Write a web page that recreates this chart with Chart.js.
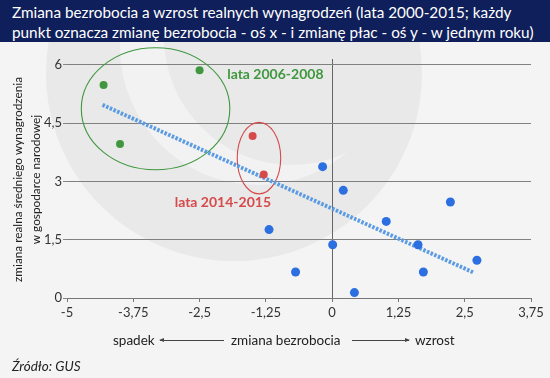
<!DOCTYPE html>
<html>
<head>
<meta charset="utf-8">
<script src="https://cdn.jsdelivr.net/npm/chart.js@4"></script>
<style>
  html, body { margin: 0; padding: 0; }
  body { width: 550px; height: 378px; position: relative; overflow: hidden; background: #f4f4f4; font-family: Lato, "Open Sans", sans-serif; color: #222; }
  #title { position: absolute; left: 0; top: 0; width: 550px; height: 42px; background: #0f1f5b; color: #fff; font-size: 15.3px; line-height: 20px; padding: 2px 0 0 12px; box-sizing: border-box; white-space: nowrap; }
  #wrap { position: absolute; left: 0; top: 42px; width: 550px; height: 336px; }
  .cap { position: absolute; font-size: 13.5px; line-height: 16px; color: #222; white-space: nowrap; }
  .arrow { position: absolute; height: 1px; background: #444; }
  .arrow.l::before, .arrow.r::after { content: ""; position: absolute; top: -2px; border-top: 2.5px solid transparent; border-bottom: 2.5px solid transparent; }
  .arrow.l::before { left: -1px; border-right: 5px solid #444; }
  .arrow.r::after { right: -1px; border-left: 5px solid #444; }
  #src { position: absolute; left: 12px; top: 358px; font-size: 13.5px; font-style: italic; color: #222; }
</style>
</head>
<body>
<div id="title">Zmiana bezrobocia a wzrost realnych wynagrodzeń (lata 2000-2015; każdy<br>punkt oznacza zmianę bezrobocia - oś x - i zmianę płac - oś y - w jednym roku)</div>
<div id="wrap"><canvas id="chart" width="550" height="336"></canvas></div>
<div class="cap" style="left:113px; top:332px;">spadek</div>
<div class="arrow l" style="left:160px; top:340px; width:64px;"></div>
<div class="cap" style="left:231px; top:332px;">zmiana bezrobocia</div>
<div class="arrow r" style="left:352px; top:340px; width:57px;"></div>
<div class="cap" style="left:415px; top:332px;">wzrost</div>
<div id="src">Źródło: GUS</div>
<script>
// zmiana bezrobocia (x) i realnych płac (y), jeden punkt = jeden rok
const otherX = [-0.18, 0.21, -1.19, 0.01, -0.69, 0.42, 1.02, 1.62, 1.72, 2.23, 2.73];
const otherY = [3.38, 2.77, 1.76, 1.37, 0.67, 0.14, 1.97, 1.37, 0.67, 2.47, 0.97];
const y0608X = [-4.31, -2.50, -4.00];
const y0608Y = [5.48, 5.86, 3.96];
const y1415X = [-1.50, -1.29];
const y1415Y = [4.17, 3.18];
const trendX = [-4.33, 2.66];
const trendY = [4.97, 0.66];

const xTicks = [-5, -3.75, -2.5, -1.25, 0, 1.25, 2.5, 3.75];
const yTicks = [0, 1.5, 3, 4.5, 6];

const yTitle = ['zmiana realna średniego wynagrodzenia', 'w gospodarce narodowej'];

const groups = [
  { text: 'lata 2006-2008', color: '#3f973f', ex: -3.33, ey: 4.87, rx: 1.40, ry: 1.57, lx: -1.98, ly: 5.76 },
  { text: 'lata 2014-2015', color: '#d64a4a', ex: -1.38, ey: 3.60, rx: 0.41, ry: 0.92, lx: -2.97, ly: 2.46 }
];

const pts = (xs, ys) => xs.map((x, i) => ({ x: x, y: ys[i] }));
const fmt = v => String(v).replace('.', ',');

// logo w tle
const watermark = {
  id: 'watermark',
  beforeDraw(chart) {
    const c = chart.ctx;
    c.save();
    c.fillStyle = '#f4f4f4';
    c.fillRect(0, 0, chart.width, chart.height);
    c.fillStyle = '#e9e9e9';
    c.beginPath(); c.arc(234, 31, 188, 0, Math.PI * 2); c.fill();
    c.fillStyle = '#f2f2f2';
    c.beginPath(); c.arc(258, 5, 138, 0, Math.PI * 2); c.fill();
    c.fillStyle = '#e9e9e9';
    c.beginPath(); c.arc(292, -5, 128, 0, Math.PI * 2); c.fill();
    c.restore();
  }
};

const extras = {
  id: 'extras',
  beforeDatasetsDraw(chart) {
    const c = chart.ctx, sx = chart.scales.x, sy = chart.scales.y;
    c.save();
    groups.forEach(g => {
      const cx = sx.getPixelForValue(g.ex), cy = sy.getPixelForValue(g.ey);
      const rx = Math.abs(sx.getPixelForValue(g.ex + g.rx) - cx);
      const ry = Math.abs(sy.getPixelForValue(g.ey + g.ry) - cy);
      c.strokeStyle = g.color;
      c.lineWidth = 1.1;
      c.beginPath(); c.ellipse(cx, cy, rx, ry, 0, 0, Math.PI * 2); c.stroke();
      c.fillStyle = g.color;
      c.font = 'bold 14px Lato';
      c.textBaseline = 'middle';
      c.fillText(g.text, sx.getPixelForValue(g.lx), sy.getPixelForValue(g.ly));
    });
    // tytuł osi y
    c.fillStyle = '#222';
    c.font = '11.8px Lato';
    c.textAlign = 'center';
    c.textBaseline = 'middle';
    const mid = (chart.chartArea.top + chart.chartArea.bottom) / 2 + 1;
    yTitle.forEach((t, i) => {
      c.save();
      c.translate(18 + i * 18, mid);
      c.rotate(-Math.PI / 2);
      c.fillText(t, 0, 0);
      c.restore();
    });
    c.restore();
  }
};

new Chart(document.getElementById('chart'), {
  type: 'scatter',
  data: {
    datasets: [
      { data: pts(trendX, trendY), type: 'line', showLine: true, borderColor: '#5a9be3', borderWidth: 4, borderDash: [2.5, 1.5], pointRadius: 0, fill: false, order: 2 },
      { data: pts(otherX, otherY), backgroundColor: '#2b6fe0', borderWidth: 0, pointRadius: 4.5, order: 1 },
      { data: pts(y0608X, y0608Y), backgroundColor: '#3f973f', borderWidth: 0, pointRadius: 4, order: 1 },
      { data: pts(y1415X, y1415Y), backgroundColor: '#d64a4a', borderWidth: 0, pointRadius: 4, order: 1 }
    ]
  },
  options: {
    responsive: false,
    animation: false,
    events: [],
    layout: { padding: { top: 17, right: 19, left: 0, bottom: 0 } },
    plugins: { legend: { display: false }, tooltip: { enabled: false } },
    scales: {
      x: {
        type: 'linear', min: -5, max: 3.75,
        afterBuildTicks: s => { s.ticks = xTicks.map(v => ({ value: v })); },
        afterFit: s => { s.height = 80; },
        border: { display: true, color: '#777', width: 1 },
        grid: {
          drawOnChartArea: true,
          color: ctx => (ctx.tick && ctx.tick.value === 0) ? '#666' : 'rgba(0,0,0,0)',
          tickColor: '#777', tickLength: 4, lineWidth: 1
        },
        ticks: { callback: fmt, color: '#333', font: { family: 'Lato', size: 13 }, padding: 3, maxRotation: 0, autoSkip: false }
      },
      y: {
        type: 'linear', min: 0, max: 6.15,
        afterBuildTicks: s => { s.ticks = yTicks.map(v => ({ value: v })); },
        afterFit: s => { s.width = 67; },
        border: { display: false },
        grid: {
          color: ctx => (ctx.tick && ctx.tick.value === 0) ? 'rgba(0,0,0,0)' : '#808080',
          borderDash: [1, 2], tickBorderDash: [],
          tickColor: '#888', tickLength: 4, lineWidth: 1
        },
        ticks: { callback: fmt, color: '#333', font: { family: 'Lato', size: 13 }, padding: 1 }
      }
    }
  },
  plugins: [watermark, extras]
});
</script>
</body>
</html>
